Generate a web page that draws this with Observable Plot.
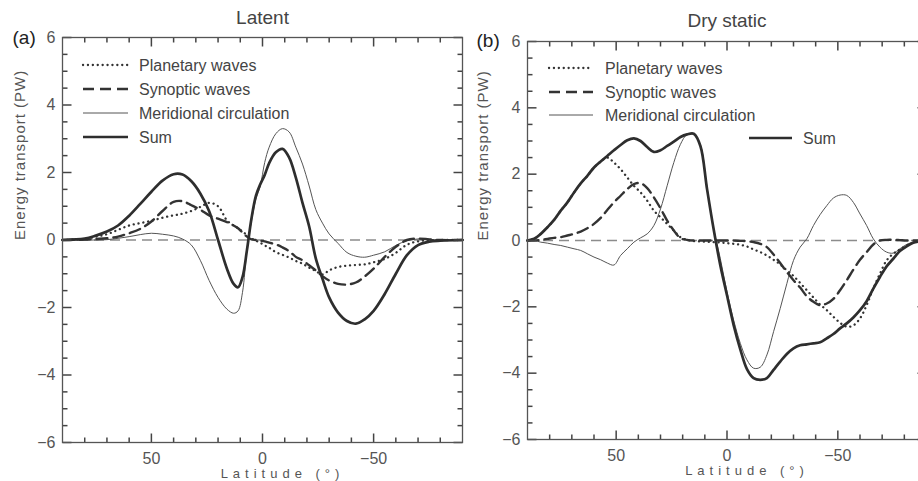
<!DOCTYPE html>
<html><head><meta charset="utf-8">
<script src="https://cdn.jsdelivr.net/npm/d3@7"></script>
<script src="https://cdn.jsdelivr.net/npm/@observablehq/plot@0.6"></script>
<style>
html,body{margin:0;padding:0;background:#fff;}
#wrap{position:relative;width:918px;height:481px;overflow:hidden;background:#fff;}
#wrap > svg{position:absolute;top:0;}
.xlab text{letter-spacing:5px;}
.ylab text{letter-spacing:1px;}
</style></head><body><div id="wrap"></div>
<script>
// ---------- Panel (a): Latent ----------
const latA = [90, 80, 75, 70, 65, 60, 55, 50, 45, 40, 36, 32, 28, 24, 20, 16, 13, 11, 9, 7, 5, 3, 1, -1, -3, -6, -9, -12, -15, -18, -21, -24, -27, -30, -34, -38, -42, -46, -50, -55, -60, -65, -70, -75, -80, -90];
const planetaryA = [0, 0.03, 0.1, 0.17, 0.3, 0.43, 0.5, 0.57, 0.66, 0.73, 0.78, 0.86, 0.98, 1.1, 1.0, 0.58, 0.43, 0.35, 0.25, 0.15, 0.05, -0.02, -0.08, -0.16, -0.23, -0.36, -0.44, -0.52, -0.62, -0.7, -0.82, -0.92, -1.02, -0.9, -0.8, -0.76, -0.74, -0.72, -0.66, -0.56, -0.38, -0.14, -0.04, -0.01, 0, 0];
const synopticA = [0, 0.01, 0.03, 0.05, 0.1, 0.2, 0.33, 0.55, 0.86, 1.13, 1.15, 1.03, 0.9, 0.73, 0.63, 0.53, 0.43, 0.35, 0.22, 0.1, 0.02, 0, -0.02, -0.04, -0.08, -0.13, -0.22, -0.33, -0.5, -0.6, -0.75, -0.9, -1.07, -1.2, -1.3, -1.32, -1.26, -1.08, -0.85, -0.5, -0.2, 0, 0.04, 0.02, 0, 0];
const meridionalA = [0, 0, 0, 0.01, 0.05, 0.1, 0.16, 0.2, 0.17, 0.12, 0.03, -0.15, -0.6, -1.2, -1.7, -2.05, -2.17, -2.1, -1.55, -0.3, 0.55, 1.2, 1.6, 2.3, 2.75, 3.15, 3.3, 3.2, 2.75, 2.25, 1.6, 0.9, 0.5, 0.18, -0.1, -0.37, -0.48, -0.51, -0.45, -0.35, -0.16, -0.02, 0.03, 0.02, 0, 0];
const sumA = [0, 0.04, 0.13, 0.25, 0.43, 0.72, 1.07, 1.43, 1.76, 1.95, 1.94, 1.74, 1.38, 0.85, 0, -0.85, -1.3, -1.4, -1.1, -0.3, 0.62, 1.3, 1.65, 1.93, 2.28, 2.6, 2.7, 2.44, 1.85, 1.1, 0.4, -0.55, -1.15, -1.7, -2.15, -2.4, -2.48, -2.35, -2.1, -1.6, -1.0, -0.45, -0.15, -0.05, -0.02, 0];

// ---------- Panel (b): Dry static ----------
const latB = [90, 87, 84, 81, 78, 75, 72, 69, 66, 63, 60, 57, 54, 51, 48, 45, 42, 39, 36, 33, 30, 27, 24, 21, 18, 15, 12, 9, 6, 3, 0, -3, -6, -9, -12, -15, -18, -21, -24, -27, -30, -33, -36, -39, -42, -45, -48, -51, -54, -57, -60, -63, -66, -69, -72, -75, -78, -81, -84, -87, -90];
const planetaryB = [0, 0.05, 0.2, 0.4, 0.62, 0.9, 1.15, 1.45, 1.72, 1.95, 2.2, 2.38, 2.5, 2.35, 2.15, 1.9, 1.65, 1.45, 1.2, 0.9, 0.7, 0.5, 0.3, 0.1, 0.02, -0.02, -0.03, -0.04, -0.05, -0.06, -0.08, -0.1, -0.13, -0.18, -0.27, -0.35, -0.45, -0.58, -0.72, -0.9, -1.07, -1.28, -1.5, -1.72, -1.93, -2.1, -2.3, -2.48, -2.6, -2.56, -2.35, -1.95, -1.45, -1.0, -0.6, -0.4, -0.27, -0.15, -0.06, -0.01, 0];
const synopticB = [0, 0, 0.02, 0.05, 0.08, 0.1, 0.15, 0.2, 0.27, 0.37, 0.5, 0.68, 0.92, 1.15, 1.35, 1.55, 1.7, 1.73, 1.58, 1.3, 0.97, 0.6, 0.3, 0.07, 0.02, 0, 0, 0, 0, 0, 0, 0, -0.01, -0.02, -0.05, -0.1, -0.2, -0.42, -0.68, -0.95, -1.2, -1.42, -1.68, -1.85, -1.95, -1.9, -1.76, -1.5, -1.2, -0.88, -0.58, -0.35, -0.12, 0, 0.02, 0.02, 0.01, 0, 0, 0, 0];
const meridionalB = [0, 0, -0.05, -0.08, -0.12, -0.15, -0.2, -0.25, -0.3, -0.4, -0.5, -0.58, -0.68, -0.74, -0.45, -0.25, -0.05, 0.08, 0.2, 0.45, 0.95, 1.65, 2.35, 2.9, 3.2, 3.2, 2.88, 1.6, 0.35, -0.55, -1.55, -2.4, -3.1, -3.6, -3.85, -3.82, -3.45, -2.75, -2.05, -1.3, -0.6, -0.2, 0.05, 0.45, 0.78, 1.05, 1.28, 1.37, 1.36, 1.15, 0.8, 0.45, 0.05, -0.2, -0.35, -0.38, -0.25, -0.12, -0.05, 0, 0];
const sumB = [0, 0.05, 0.2, 0.4, 0.62, 0.9, 1.15, 1.45, 1.72, 1.95, 2.2, 2.38, 2.55, 2.72, 2.88, 3.02, 3.08, 3.0, 2.82, 2.67, 2.72, 2.85, 2.98, 3.12, 3.2, 3.22, 2.85, 1.55, 0.33, -0.75, -1.65, -2.55, -3.28, -3.88, -4.15, -4.2, -4.15, -3.9, -3.65, -3.42, -3.25, -3.16, -3.13, -3.1, -3.07, -2.95, -2.82, -2.65, -2.5, -2.32, -2.1, -1.83, -1.45, -1.1, -0.78, -0.55, -0.32, -0.18, -0.07, -0.02, 0];

// ---------- Axis ticks / labels ----------
const xDomain = [90, -90];
const yDomain = [-6, 6];
const xMajor = [50, 0, -50];
const xMinor = [80, 70, 60, 40, 30, 20, 10, -10, -20, -30, -40, -60, -70, -80];
const yMajor = [-6, -4, -2, 0, 2, 4, 6];
const yMinor = [-5.5, -5, -4.5, -3.5, -3, -2.5, -1.5, -1, -0.5, 0.5, 1, 1.5, 2.5, 3, 3.5, 4.5, 5, 5.5];
const seriesNames = ["Planetary waves", "Synoptic waves", "Meridional circulation", "Sum"];
const panelTitles = ["Latent", "Dry static"];
const panelTags = ["(a)", "(b)"];
const yLabel = "Energy transport (PW)";
const xLabel = "Latitude (°)";

const styles = {
  "Planetary waves": {stroke: "#333", strokeWidth: 2.3, strokeDasharray: "0.1 4.8", strokeLinecap: "round"},
  "Synoptic waves": {stroke: "#333", strokeWidth: 2.4, strokeDasharray: "11 6"},
  "Meridional circulation": {stroke: "#555", strokeWidth: 1},
  "Sum": {stroke: "#2e2e2e", strokeWidth: 2.7}
};

function rowsFor(lat, values, name) {
  return lat.map((l, i) => ({lat: l, v: values[i], s: name}));
}

function tickRows(vals, edge, len) {
  return vals.map(v => ({v, a: edge, b: edge + len}));
}

function panel(cfg) {
  const {lat, values, title, tag, width, mL, mR, mT, mB, tagDx, tagDy, titleDy, yLabDx} = cfg;
  const height = 481;
  const fw = width - mL - mR, fh = height - mT - mB;
  // pixel -> data-unit conversions for inward tick lengths
  const ux = (xDomain[0] - xDomain[1]) / fw;
  const uy = (yDomain[1] - yDomain[0]) / fh;
  const lineMarks = ["Meridional circulation", "Planetary waves", "Synoptic waves", "Sum"].map(name =>
    Plot.line(rowsFor(lat, values[name], name), {x: "lat", y: "v", curve: "catmull-rom", ...styles[name]})
  );
  const col = "#555";
  const tk = {stroke: "#444", strokeWidth: 1.5};
  const xTicks = [
    ...tickRows(xMajor, yDomain[0], 9 * uy), ...tickRows(xMinor, yDomain[0], 5 * uy),
    ...tickRows(xMajor, yDomain[1], -9 * uy), ...tickRows(xMinor, yDomain[1], -5 * uy)
  ];
  const yTicks = [
    ...tickRows(yMajor, xDomain[0], -9 * ux), ...tickRows(yMinor, xDomain[0], -5 * ux),
    ...tickRows(yMajor, xDomain[1], 9 * ux), ...tickRows(yMinor, xDomain[1], 5 * ux)
  ];
  return Plot.plot({
    width, height,
    marginLeft: mL, marginRight: mR, marginTop: mT, marginBottom: mB,
    style: {fontFamily: "'Liberation Sans', Arial, sans-serif", fontSize: "16px", background: "transparent", overflow: "visible", color: col},
    x: {domain: xDomain, label: null},
    y: {domain: yDomain, label: null},
    marks: [
      Plot.ruleY([0], {stroke: "#8c8c8c", strokeWidth: 1.5, strokeDasharray: "10 6"}),
      ...lineMarks,
      Plot.link(xTicks, {x1: "v", x2: "v", y1: "a", y2: "b", ...tk}),
      Plot.link(yTicks, {y1: "v", y2: "v", x1: "a", x2: "b", ...tk}),
      Plot.frame({stroke: col, strokeWidth: 1.3}),
      // tick labels
      Plot.axisX(xMajor, {anchor: "bottom", tickSize: 0, tickPadding: 10, label: null, fill: col, fontSize: 16}),
      Plot.axisY(yMajor, {anchor: "left", tickSize: 0, tickPadding: 7, label: null, fill: col, fontSize: 16}),
      Plot.text([title], {text: d => d, frameAnchor: "top", lineAnchor: "bottom", dy: titleDy, fontSize: 19, fill: "#444"}),
      Plot.text([tag], {text: d => d, frameAnchor: "top-left", textAnchor: "start", lineAnchor: "bottom", dx: tagDx, dy: tagDy, fontSize: 19, fill: "#222"}),
      Plot.text([yLabel], {text: d => d, frameAnchor: "left", rotate: -90, dx: yLabDx, fontSize: 15, fill: col, className: "ylab"}),
      Plot.text([xLabel], {text: d => d, frameAnchor: "bottom", lineAnchor: "middle", dx: 20, dy: 31, fontSize: 13, fill: col, className: "xlab"})
    ]
  });
}

const wrap = document.getElementById("wrap");

const plotA = panel({
  lat: latA,
  values: {"Planetary waves": planetaryA, "Synoptic waves": synopticA, "Meridional circulation": meridionalA, "Sum": sumA},
  title: panelTitles[0], tag: panelTags[0],
  width: 470, mL: 62, mR: 8, mT: 37, mB: 39, tagDx: -50, tagDy: 6, titleDy: -14, yLabDx: -42
});
plotA.style.left = "0px";
wrap.appendChild(plotA);

const plotB = panel({
  lat: latB,
  values: {"Planetary waves": planetaryB, "Synoptic waves": synopticB, "Meridional circulation": meridionalB, "Sum": sumB},
  title: panelTitles[1], tag: panelTags[1],
  width: 470, mL: 69, mR: 2, mT: 41, mB: 42, tagDx: -51, tagDy: 5, titleDy: -15, yLabDx: -44
});
plotB.style.left = "458px";
wrap.appendChild(plotB);

// ---------- Legends (overlay) ----------
const legendLayout = [
  {panel: 0, name: "Planetary waves", x0: 83, x1: 128, tx: 139, y: 65},
  {panel: 0, name: "Synoptic waves", x0: 83, x1: 128, tx: 139, y: 89},
  {panel: 0, name: "Meridional circulation", x0: 83, x1: 128, tx: 139, y: 113},
  {panel: 0, name: "Sum", x0: 83, x1: 128, tx: 139, y: 137},
  {panel: 1, name: "Planetary waves", x0: 549, x1: 593, tx: 605, y: 68},
  {panel: 1, name: "Synoptic waves", x0: 549, x1: 593, tx: 605, y: 92},
  {panel: 1, name: "Meridional circulation", x0: 549, x1: 593, tx: 605, y: 115},
  {panel: 1, name: "Sum", x0: 749, x1: 792, tx: 803, y: 138}
];
const leg = d3.select(wrap).append("svg")
  .attr("width", 918).attr("height", 481)
  .style("position", "absolute").style("left", "0px").style("top", "0px")
  .style("pointer-events", "none");
const items = leg.selectAll("g").data(legendLayout).join("g");
items.append("line")
  .attr("x1", d => d.x0).attr("x2", d => d.x1).attr("y1", d => d.y).attr("y2", d => d.y)
  .attr("stroke", d => styles[d.name].stroke)
  .attr("stroke-width", d => styles[d.name].strokeWidth)
  .attr("stroke-dasharray", d => styles[d.name].strokeDasharray || null)
  .attr("stroke-linecap", d => styles[d.name].strokeLinecap || null);
items.append("text")
  .attr("x", d => d.tx).attr("y", d => d.y).attr("dy", "0.35em")
  .attr("font-family", "'Liberation Sans', Arial, sans-serif")
  .attr("font-size", 16).attr("fill", "#444")
  .text(d => d.name);
</script>
</body></html>
